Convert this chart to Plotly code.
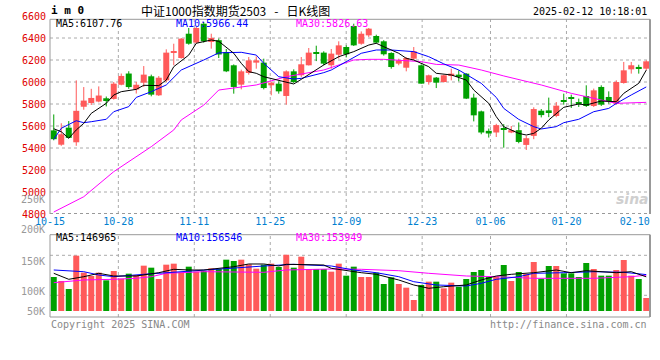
import plotly.graph_objects as go

# ---------------- data ----------------
dates = ["10-15","10-16","10-17","10-18","10-21","10-22","10-23","10-24","10-25","10-28",
         "10-29","10-30","10-31","11-01","11-04","11-05","11-06","11-07","11-08","11-11",
         "11-12","11-13","11-14","11-15","11-18","11-19","11-20","11-21","11-22","11-25",
         "11-26","11-27","11-28","11-29","12-02","12-03","12-04","12-05","12-06","12-09",
         "12-10","12-11","12-12","12-13","12-16","12-17","12-18","12-19","12-20","12-23",
         "12-24","12-25","12-26","12-27","12-30","12-31","01-02","01-03","01-06","01-07",
         "01-08","01-09","01-10","01-13","01-14","01-15","01-16","01-17","01-20","01-21",
         "01-22","01-23","01-24","01-27","02-05","02-06","02-07","02-10","02-11","02-12"]

opens = [5560,5430,5585,5452,5775,5809,5822,5852,5846,5975,
         6077,5932,5994,6052,5879,6015,6265,6218,6439,6358,
         6530,6364,6380,6273,6152,5976,6082,6176,6176,5970,
         5985,5873,6097,6061,6152,6273,6267,6152,6248,6318,
         6509,6348,6424,6418,6370,6264,6167,6130,6212,6152,
         6000,6040,6000,6061,6067,6076,5858,5733,5556,5541,
         5580,5541,5562,5428,5510,5739,5742,5691,5833,5858,
         5818,5873,5782,5955,5864,5803,5991,6115,6136,6121]
highs = [5705,5625,5645,6015,5954,5938,5960,5868,6000,6077,
         6098,6000,6145,6067,6054,6297,6348,6400,6491,6500,
         6545,6439,6395,6300,6160,6112,6227,6233,6212,6003,
         6006,6106,6115,6227,6309,6330,6279,6300,6370,6333,
         6530,6460,6491,6430,6380,6270,6212,6227,6318,6160,
         6067,6045,6065,6121,6106,6080,5894,5740,5577,5620,
         5617,5600,5632,5510,5770,5754,5858,5818,5894,5885,
         5849,5970,5940,5970,5915,6015,6182,6182,6157,6197]
lows = [5470,5420,5490,5420,5748,5791,5815,5778,5840,5970,
        5938,5895,5955,5870,5873,6000,6152,6212,6339,6348,
        6358,6303,6218,6090,5894,5933,6067,6121,5933,5879,
        5894,5794,5990,6045,6150,6190,6152,6121,6212,6227,
        6327,6339,6409,6350,6240,6121,6152,6097,6197,5985,
        5976,5945,5995,6015,6006,5845,5642,5525,5495,5500,
        5403,5535,5443,5382,5480,5678,5680,5680,5794,5764,
        5773,5773,5773,5782,5803,5794,5985,6076,6076,6106]
closes = [5480,5525,5492,5738,5831,5855,5877,5835,5985,6055,
          5954,5975,6067,5885,6039,6267,6272,6394,6348,6491,
          6370,6400,6250,6097,5955,6097,6197,6197,5945,5994,
          5915,6097,6000,6161,6267,6262,6167,6258,6333,6252,
          6333,6439,6485,6358,6252,6136,6197,6218,6279,5985,
          6061,5994,6061,6076,6052,5849,5697,5541,5532,5608,
          5568,5562,5455,5489,5754,5699,5724,5785,5820,5849,
          5803,5782,5924,5794,5824,6000,6106,6152,6127,6188]
volumes = [146200,129000,94600,237900,164800,150500,164800,131900,172000,139000,
           160500,154800,194900,186300,137600,199200,203500,164800,190600,169100,
           172000,183500,180600,220700,215000,220700,200700,182000,199200,203500,
           189200,242200,186300,233600,180600,180600,180600,169100,203500,151900,
           190600,146200,146200,164800,116100,144800,116100,100300,47300,111800,
           126100,126100,97500,121800,104600,137600,167700,176300,147600,147600,
           197800,129000,167700,159100,210700,139000,193500,193500,162000,162000,
           146200,206400,180600,151900,151900,176300,219300,151900,137600,55900]

# moving averages (candle index, value)
ma5_idx = [0,1,2,3,4,5,7,8,9,11,12,14,15,16,18,19,21,22,24,25,26,27,28,30,31,32,33,35,36,38,40,
           42,43,44,46,47,48,50,51,53,55,56,58,59,60,62,63,64,65,66,67,68,70,71,73,75,76,78,79]
ma5_val = [5575,5548,5488,5564,5624,5715,5806,5882,5912,5933,5970,5967,6018,6139,6245,6352,6382,6370,
           6261,6170,6094,6079,6048,6018,6003,5982,6024,6109,6155,6230,6276,6336,6352,6321,6261,6215,
           6200,6139,6079,6064,6018,5927,5806,5685,5594,5533,5518,5533,5579,5655,5715,5770,5800,5791,
           5827,5821,5897,5988,6108]
ma10_idx = [0,1,3,4,5,7,8,10,11,13,15,17,20,22,25,27,28,30,32,33,36,37,39,41,43,45,48,50,52,54,
            57,59,60,62,64,65,67,68,70,72,74,75,77,79]
ma10_val = [5479,5579,5648,5630,5639,5661,5730,5776,5860,5912,5973,6109,6200,6265,6270,6245,6170,6048,
            6027,6033,6085,6109,6185,6261,6291,6291,6276,6230,6165,6109,5988,5860,5760,5660,5594,5573,
            5594,5630,5661,5730,5760,5805,5882,5955]
ma30_idx = [0,4,8,13,16,17,20,22,27,31,36,40,42,44,49,51,54,57,60,65,69,73,75,79]
ma30_val = [4818,4957,5185,5412,5564,5655,5790,5927,5973,6048,6109,6200,6206,6206,6185,6160,6154,
            6109,6055,5973,5897,5836,5806,5815]

vma5_idx = [0,2,4,6,8,11,14,16,18,20,24,26,28,30,31,34,36,37,39,41,43,46,48,50,52,55,57,59,61,64,
            67,69,71,75,77,79]
vma5_val = [162100,136300,147500,162100,150500,150500,164700,179300,176300,176300,190500,202100,
            202100,193500,200800,200800,197800,183600,173300,164700,157800,133300,111800,97600,
            104500,111800,133300,150500,157800,164700,176300,164700,173300,164700,169000,146965]
vma10_idx = [0,4,6,8,12,15,18,21,24,28,32,37,40,43,46,48,51,55,57,59,62,64,68,72,76,79]
vma10_val = [176300,169000,154800,147500,157800,164700,172000,176300,186200,193500,200800,193500,
             176300,164700,147500,126000,111800,107500,119100,136300,147500,162100,164700,169000,
             166400,156546]
vma30_idx = [0,4,8,11,13,15,20,24,28,31,37,41,46,50,55,59,64,68,72,77,79]
vma30_val = [121700,133300,136300,140600,147500,162100,169000,169000,166400,176300,180600,179300,
             173300,162100,150500,147500,140600,140600,140600,147500,153949]

price_ticks = [4800, 5000, 5200, 5400, 5600, 5800, 6000, 6200, 6400, 6600]
date_ticks = ["10-15", "10-28", "11-11", "11-25", "12-09", "12-23", "01-06", "01-20", "02-10"]
vol_tick_text = ["250K", "200K", "150K", "100K", "50K"]
price_legend = ["MA5:6107.76", "MA10:5966.44", "MA30:5826.63"]
vol_legend = ["MA5:146965", "MA10:156546", "MA30:153949"]
title_text = "中证1000指数期货2503\u00a0\u00a0\u00a0-\u00a0\u00a0\u00a0日K线图"
stamp_text = "2025-02-12 10:18:01"

# ---------------- layout helpers (pixels) ----------------
W, H = 660, 360
ML, MR, MT, MB = 50, 10, 16, 43
PW, PH = W - ML - MR, H - MT - MB


def xp(px):
    return (px - ML) / PW


def yp(py):
    return (H - MB - py) / PH


RED = "#FF5A5A"
GREEN = "#00A000"
GRID = "#AAAAAA"
FRAME = "#999999"
MONO = "DejaVu Sans Mono"

n = len(dates)
idx = list(range(n))
up = [c >= o for o, c in zip(opens, closes)]

fig = go.Figure()

# candle wicks
for flag, col in ((True, RED), (False, GREEN)):
    wx, wy = [], []
    for i in idx:
        if up[i] == flag:
            wx += [i, i, None]
            wy += [lows[i], highs[i], None]
    fig.add_trace(go.Scatter(x=wx, y=wy, mode="lines", line=dict(color=col, width=1),
                             xaxis="x", yaxis="y", hoverinfo="skip", showlegend=False))

# candle bodies
for flag, col in ((True, RED), (False, GREEN)):
    bx = [i for i in idx if up[i] == flag]
    bb = [min(opens[i], closes[i]) for i in bx]
    bh = [max(abs(closes[i] - opens[i]), 10) for i in bx]
    fig.add_trace(go.Bar(x=bx, y=bh, base=bb, width=0.8, marker=dict(color=col, line=dict(width=0)),
                         xaxis="x", yaxis="y", showlegend=False))

# price moving averages
for xs, ys, col in ((ma30_idx, ma30_val, "#FF00FF"), (ma10_idx, ma10_val, "#0000FF"),
                    (ma5_idx, ma5_val, "#000000")):
    fig.add_trace(go.Scatter(x=xs, y=ys, mode="lines", line=dict(color=col, width=1),
                             xaxis="x", yaxis="y", showlegend=False))

# volume bars
fig.add_trace(go.Bar(x=idx, y=volumes, width=0.8,
                     marker=dict(color=[RED if u else GREEN for u in up], line=dict(width=0)),
                     xaxis="x2", yaxis="y2", showlegend=False))
for xs, ys, col in ((vma30_idx, vma30_val, "#FF00FF"), (vma10_idx, vma10_val, "#0000FF"),
                    (vma5_idx, vma5_val, "#000000")):
    fig.add_trace(go.Scatter(x=xs, y=ys, mode="lines", line=dict(color=col, width=1),
                             xaxis="x2", yaxis="y2", showlegend=False))

# ---------------- axes ----------------
vol_per_px = 4300.0
base_py = 311.0
vol_range = [vol_per_px * (base_py - 317.0), vol_per_px * (base_py - 234.7)]
top_price = 4800 + (214 - 19.3) / 0.11

label_pos = [dates.index(d) * n / (n - 1) - 0.5 for d in date_ticks]

fig.update_layout(
    width=W, height=H, margin=dict(l=ML, r=MR, t=MT, b=MB),
    paper_bgcolor="white", plot_bgcolor="white", barmode="overlay",
    xaxis=dict(domain=[0, 1], range=[-0.5, n - 0.5], anchor="y", showgrid=False, zeroline=False,
               showline=False, ticks="", tickvals=label_pos, ticktext=date_ticks,
               tickfont=dict(family=MONO, size=10, color="#0080D0"), ticklabelstandoff=0),
    xaxis2=dict(domain=[0, 1], range=[-0.5, n - 0.5], anchor="y2", matches="x", showgrid=False,
                zeroline=False, showline=False, showticklabels=False, ticks=""),
    yaxis=dict(domain=[yp(214), 1], range=[4800, 6600], showgrid=False, zeroline=False,
               showline=False, ticks="", tickvals=price_ticks, ticktext=[str(v) for v in price_ticks],
               tickfont=dict(family=MONO, size=10, color="#E00000"), ticklabelstandoff=3),
    yaxis2=dict(domain=[0, yp(234.7)], range=vol_range, showgrid=False, zeroline=False,
                showline=False, showticklabels=False, ticks=""),
    font=dict(family=MONO, size=10, color="#000000"),
)

shapes = []
# price horizontal grid
for v in price_ticks[1:-1]:
    shapes.append(dict(type="line", xref="paper", yref="y", x0=0, x1=1, y0=v, y1=v,
                       line=dict(color=GRID, width=1, dash="dot"), layer="below"))
# vertical grid in both panels
for d, pos in zip(date_ticks, label_pos):
    if d in ("10-15", "02-10"):
        continue
    shapes.append(dict(type="line", xref="x", yref="y", x0=pos, x1=pos, y0=4800, y1=top_price,
                       line=dict(color=GRID, width=1, dash="dot"), layer="below"))
    shapes.append(dict(type="line", xref="x", yref="paper", x0=pos, x1=pos, y0=0, y1=yp(234.7),
                       line=dict(color=GRID, width=1, dash="dot"), layer="below"))
# volume horizontal grid
for py in (255.3, 295.3):
    shapes.append(dict(type="line", xref="paper", yref="paper", x0=0, x1=1, y0=yp(py), y1=yp(py),
                       line=dict(color=GRID, width=1, dash="dot"), layer="below"))
# frames
shapes += [
    dict(type="line", xref="paper", yref="y", x0=0, x1=1, y0=top_price, y1=top_price,
         line=dict(color=FRAME, width=1)),
    dict(type="line", xref="paper", yref="y", x0=0, x1=0, y0=4800, y1=top_price,
         line=dict(color=FRAME, width=1)),
    dict(type="line", xref="paper", yref="y", x0=1, x1=1, y0=4800, y1=top_price,
         line=dict(color=FRAME, width=2)),
    dict(type="line", xref="paper", yref="y", x0=0, x1=1, y0=4800, y1=4800,
         line=dict(color=FRAME, width=2, dash="dot")),
    dict(type="rect", xref="paper", yref="paper", x0=0, x1=1, y0=0, y1=yp(234.7),
         line=dict(color=FRAME, width=1)),
    dict(type="line", xref="paper", yref="paper", x0=1, x1=1, y0=0, y1=yp(234.7),
         line=dict(color=FRAME, width=2)),
]
fig.update_layout(shapes=shapes)

ann = []


def text(px, py, s, anchor="left", color="#000000", size=10, family=MONO, **kw):
    ann.append(dict(x=xp(px), y=yp(py), xref="paper", yref="paper", text=s, showarrow=False,
                    xanchor=anchor, yanchor="middle", font=dict(family=family, size=size, color=color),
                    **kw))


text(49, 10, "<b>i m 0</b>", size=11)
text(139, 10, title_text, anchor="left", size=12, family="Noto Sans CJK SC")
text(649, 12, stamp_text, anchor="right")
for s, px, col in zip(price_legend, (54, 174, 294), ("#000000", "#0000FF", "#FF00FF")):
    text(px, 24, s, color=col)
for s, px, col in zip(vol_legend, (54, 174, 294), ("#000000", "#0000FF", "#FF00FF")):
    text(px, 238, s, color=col)
for s, py in zip(vol_tick_text, (199, 229, 261, 291, 311)):
    text(47, py, s, anchor="right", color="#999999")
text(49, 324, "Copyright 2025 SINA.COM", color="#888888")
text(649, 324, "http://finance.sina.com.cn", anchor="right", color="#888888")
text(632, 199, "<b><i>sina</i></b>", anchor="center", size=14, color="#CFCFCF", family="DejaVu Sans")
fig.update_layout(annotations=ann)

fig.write_html("out.html", config={"displayModeBar": False},
               post_script="document.body.style.margin='0px';document.body.style.padding='0px';")
